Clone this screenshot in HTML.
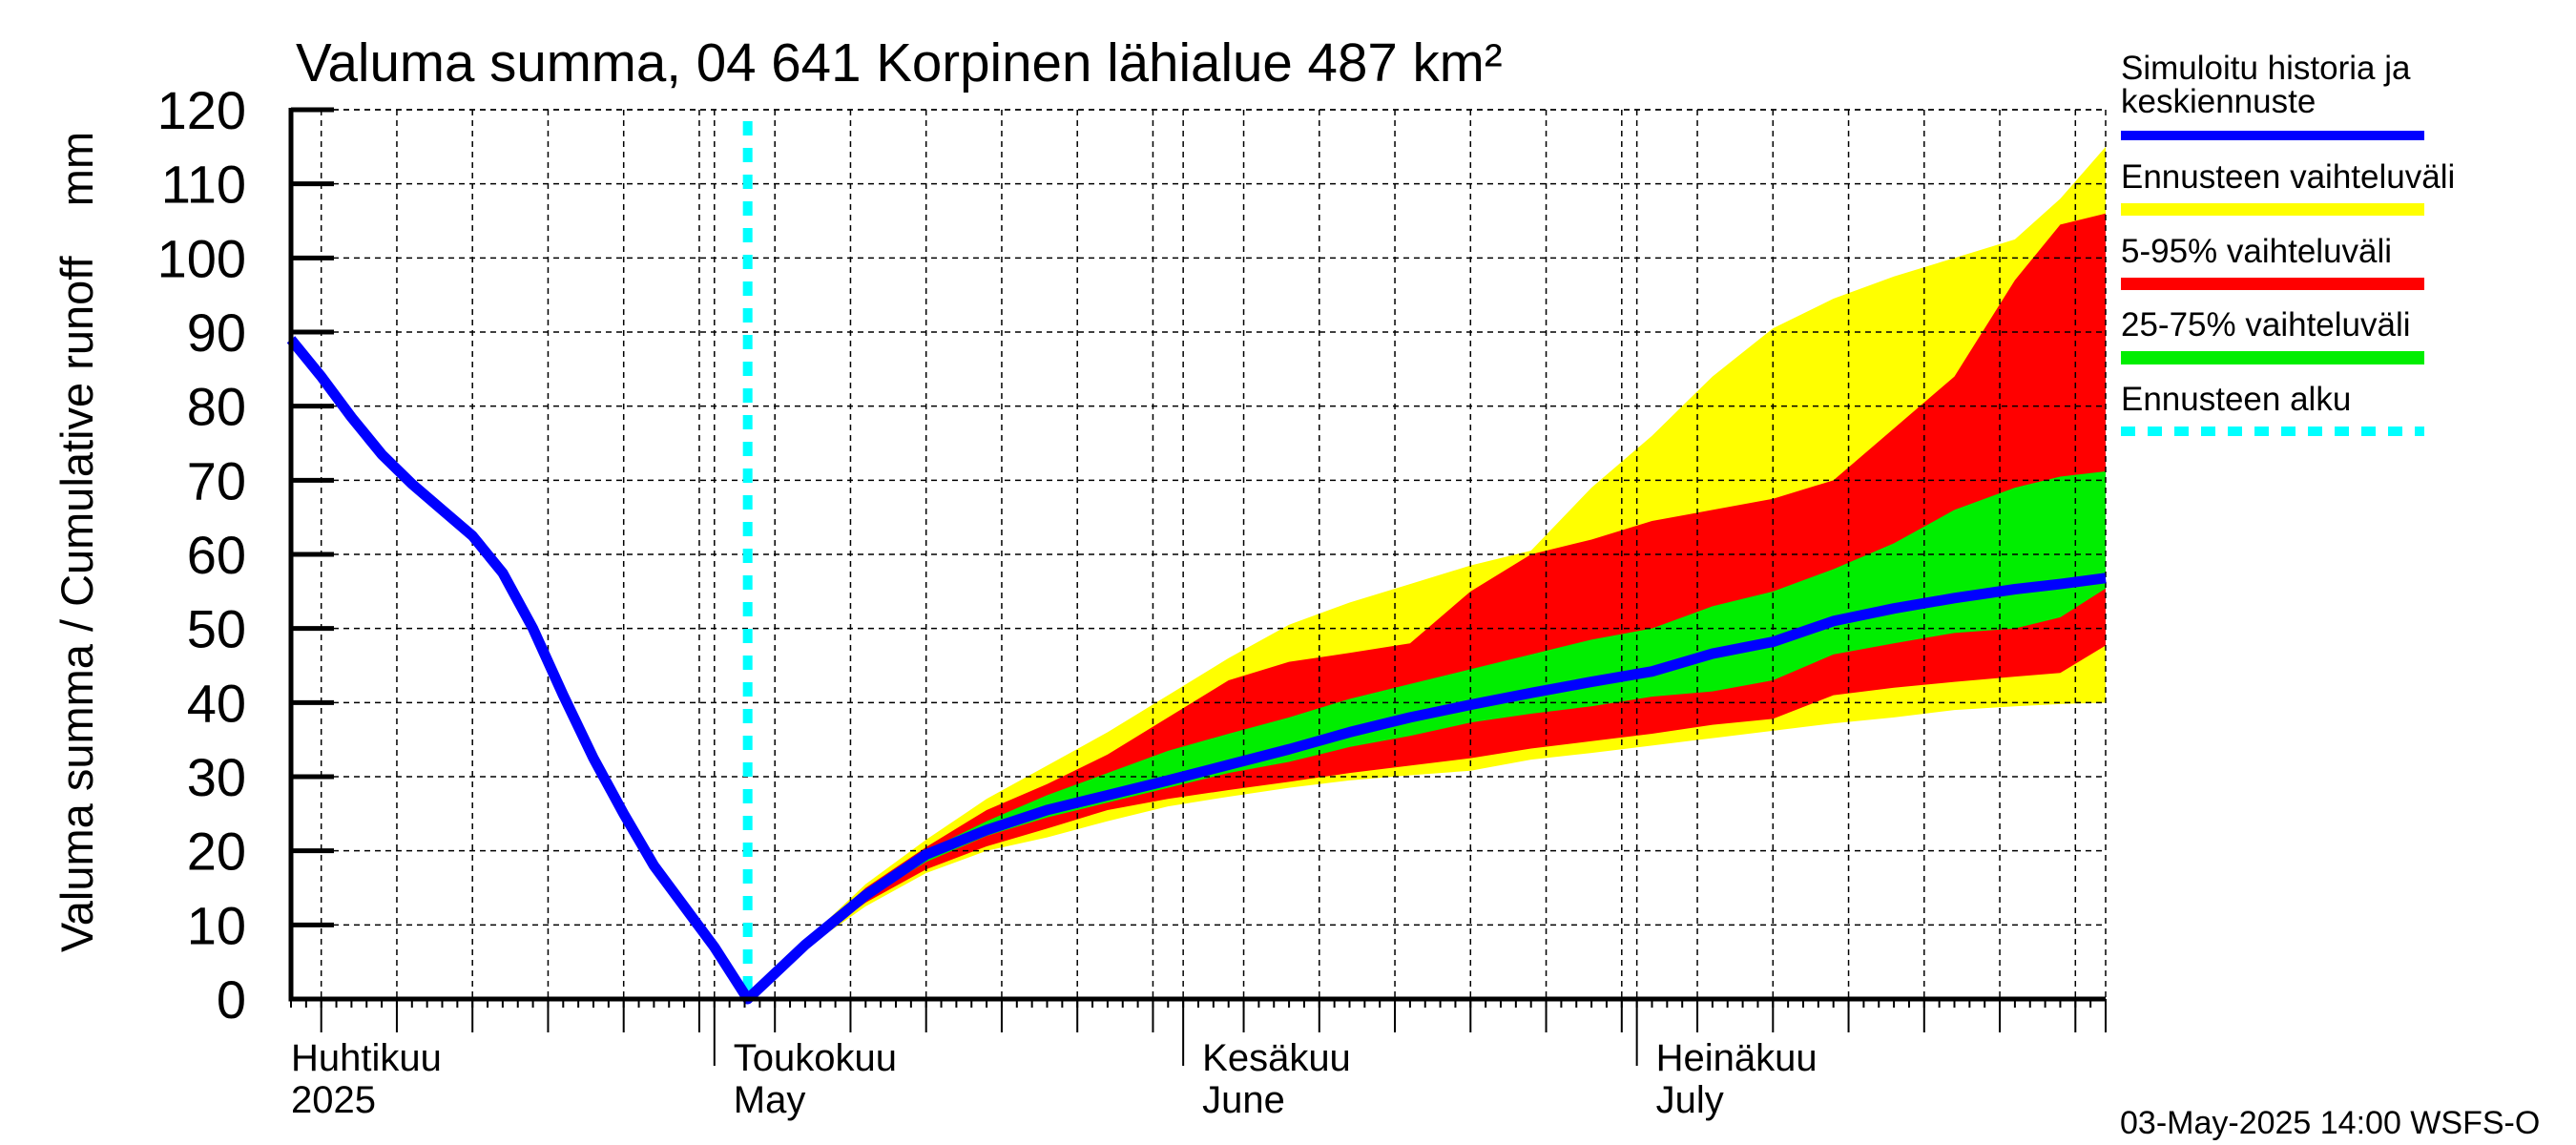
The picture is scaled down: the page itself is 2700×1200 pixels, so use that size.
<!DOCTYPE html>
<html><head><meta charset="utf-8"><style>
html,body{margin:0;padding:0;background:#fff;}
svg{display:block;font-family:"Liberation Sans",sans-serif;}
</style></head><body>
<svg id="chart" width="2700" height="1200" viewBox="0 0 2700 1200">
<g id="bands"></g>
<g id="grid"></g>
<g id="lines"></g>
<g id="axes"></g>
<text x="310" y="85" font-size="56.5">Valuma summa, 04 641 Korpinen lähialue 487 km²</text>
<text transform="translate(97,568) rotate(-90)" font-size="47" text-anchor="middle" xml:space="preserve">Valuma summa / Cumulative runoff    mm</text>
<g font-size="35">
<text x="2223" y="83">Simuloitu historia ja</text>
<text x="2223" y="118">keskiennuste</text>
<rect x="2223" y="137" width="318" height="10" fill="#0000ff"/>
<text x="2223" y="197">Ennusteen vaihteluväli</text>
<rect x="2223" y="213" width="318" height="13" fill="#ffff00"/>
<text x="2223" y="275">5-95% vaihteluväli</text>
<rect x="2223" y="291" width="318" height="13" fill="#ff0000"/>
<text x="2223" y="352">25-75% vaihteluväli</text>
<rect x="2223" y="368" width="318" height="14" fill="#00ee00"/>
<text x="2223" y="430">Ennusteen alku</text>
<line x1="2223" y1="452" x2="2541" y2="452" stroke="#00ffff" stroke-width="10" stroke-dasharray="15,13"/>
</g>
<text x="2222" y="1188" font-size="34">03-May-2025 14:00 WSFS-O</text>
</svg>
<script>
const histDays=[0,2,4,6,8,10,12,14,16,18,20,22,24,26,28,30.2];
const histVals=[89,84,78.5,73.5,69.5,66,62.5,57.5,50,41,32.5,25,18,12.5,7,0];
const fcDays=[30.2,34,38,42,46,50,54,58,62,66,70,74,78,82,86,90,94,98,102,106,110,114,117,120];
const median=[0,7.3,14,19.5,22.8,25.5,27.5,29.5,31.6,33.7,36,38,39.7,41.3,42.8,44.2,46.6,48.2,51,52.7,54.1,55.3,56,56.8];
const yelHi=[0,7.8,15.5,21.5,27,31.5,36,41,46,50.5,53.5,56,58.5,60.5,69,76,84,90.5,94.5,97.5,100,102.5,108,115];
const yelLo=[0,6.8,12.5,17,20,21.8,24,26,27.3,28.5,29.5,30.2,30.8,32.3,33.2,34.2,35.2,36.2,37.2,38,39,39.5,39.8,40];
const redHi=[0,7.7,15,20.5,25.5,29,33,38,43,45.5,46.7,48,55,60,62,64.5,66,67.5,70,77,84,97,104.5,106];
const redLo=[0,7,13,17.5,20.6,23,25.5,27,28.2,29.3,30.5,31.5,32.5,33.8,34.8,35.8,37,37.8,41,42,42.8,43.5,44,47.7];
const grnHi=[0,7.5,14.5,20,24,27.5,30.5,33.5,35.8,38,40.5,42.5,44.5,46.5,48.5,50,53,55,58,61.5,66,69,70.5,71.2];
const grnLo=[0,7.1,13.5,18.5,22,24.5,26.5,28.5,30.5,32,34,35.5,37.3,38.5,39.5,40.8,41.5,43,46.5,48,49.4,50,51.5,55.4];
const yTicks=[0,10,20,30,40,50,60,70,80,90,100,110,120];
const forecastStart=30.2;
const monthStarts=[28,59,89];
const monthLabels=[["Huhtikuu","2025",0],["Toukokuu","May",28],["Kesäkuu","June",59],["Heinäkuu","July",89]];

const X0=305,X1=2207,Y0=1047,Y1=115,DMAX=120,VMAX=120;
const sx=d=>X0+d/DMAX*(X1-X0);
const sy=v=>Y0-v/VMAX*(Y0-Y1);
const NS="http://www.w3.org/2000/svg";
function mk(tag,attrs,parent){const e=document.createElementNS(NS,tag);for(const k in attrs)e.setAttribute(k,attrs[k]);parent.appendChild(e);return e;}
const gBands=document.getElementById('bands'),gGrid=document.getElementById('grid'),gLines=document.getElementById('lines'),gAxes=document.getElementById('axes');

function band(hi,lo,color,name){
  let pts=fcDays.map((d,i)=>sx(d)+','+sy(hi[i]));
  for(let i=fcDays.length-1;i>=0;i--)pts.push(sx(fcDays[i])+','+sy(lo[i]));
  const p=mk('polygon',{points:pts.join(' '),fill:color},gBands);
  
  
}
band(yelHi,yelLo,'#ffff00','band-forecast-range');
band(redHi,redLo,'#ff0000','band-5-95');
band(grnHi,grnLo,'#00ee00','band-25-75');

yTicks.forEach(v=>{if(v===0)return;
  const l=mk('line',{x1:X0,x2:X1,y1:sy(v),y2:sy(v),stroke:'#000','stroke-width':1.5,'stroke-dasharray':'6,5'},gGrid);
  
  
});
const gridDays=[];
const mStart=[-2,28,59,89,120];const mLen=[30,31,30,31];
for(let m=0;m<4;m++){for(let d=5;d<=mLen[m];d+=5){const day=mStart[m]+d-1;if(day>0&&day<120)gridDays.push(day);}}
monthStarts.forEach(d=>gridDays.push(d));
gridDays.push(120);
gridDays.forEach(d=>{
  const l=mk('line',{x1:sx(d),x2:sx(d),y1:Y1,y2:Y0,stroke:'#000','stroke-width':1.5,'stroke-dasharray':'6,5'},gGrid);
  
  
});
const gridTop=mk('line',{x1:X0,x2:X1,y1:Y1,y2:Y1,stroke:'#000','stroke-width':1.5,'stroke-dasharray':'6,5'},gGrid);



const cy=mk('line',{x1:sx(forecastStart),x2:sx(forecastStart),y1:Y1+12,y2:Y0,stroke:'#00ffff','stroke-width':10,'stroke-dasharray':'15,13'},gLines);



const allD=histDays.concat(fcDays.slice(1)),allV=histVals.concat(median.slice(1));
const bl=mk('polyline',{points:allD.map((d,i)=>sx(d)+','+sy(allV[i])).join(' '),fill:'none',stroke:'#0000ff','stroke-width':11,'stroke-linejoin':'round'},gLines);



const ax=mk('path',{d:`M${X0},${Y1-2} V${Y0} H${X1}`,fill:'none',stroke:'#000','stroke-width':5},gAxes);


yTicks.forEach(v=>{
  const t=mk('line',{x1:X0,x2:X0+45,y1:sy(v),y2:sy(v),stroke:'#000','stroke-width':5},gAxes);
  
  
  const tx=mk('text',{x:258,y:sy(v)+20,'font-size':56,'text-anchor':'end'},gAxes);
  tx.textContent=v;
  
  
});
for(let d=0;d<=120;d++){
  const t=mk('line',{x1:sx(d),x2:sx(d),y1:Y0,y2:Y0+9,stroke:'#000','stroke-width':2},gAxes);
  
  
}
gridDays.forEach(d=>{
  const len=monthStarts.includes(d)?70:35;
  const t=mk('line',{x1:sx(d),x2:sx(d),y1:Y0,y2:Y0+len,stroke:'#000','stroke-width':2},gAxes);
  
  
});
monthLabels.forEach(([fi,en,d])=>{
  const x=d===0?X0:sx(d)+20;
  const a=mk('text',{x:x,y:1122,'font-size':40},gAxes);a.textContent=fi;
  
  
  const b=mk('text',{x:x,y:1166,'font-size':40},gAxes);b.textContent=en;
  
  
});
</script>
</body></html>
